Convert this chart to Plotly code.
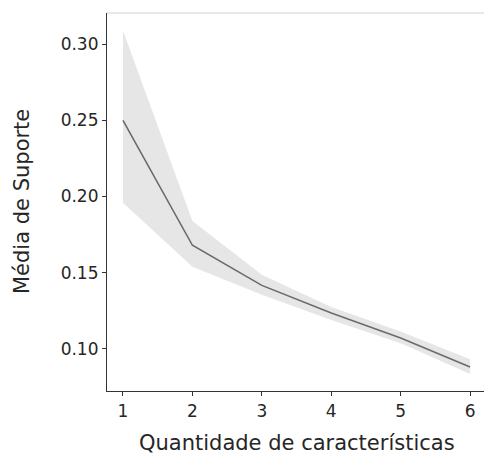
import plotly.graph_objects as go

features = [1, 2, 3, 4, 5, 6]
mean_support = [0.250, 0.168, 0.1417, 0.1235, 0.1072, 0.0882]
upper_ci = [0.309, 0.184, 0.1487, 0.1275, 0.1114, 0.0932]
lower_ci = [0.1959, 0.154, 0.1355, 0.1190, 0.1037, 0.0836]
y_ticks = [0.10, 0.15, 0.20, 0.25, 0.30]
x_ticks = [1, 2, 3, 4, 5, 6]

FONT = "DejaVu Sans"
PW = 377.0  # plot width in px
PH = 378.0  # plot height in px

fig = go.Figure()
fig.add_trace(go.Scatter(x=features, y=upper_ci, mode="lines",
                         line=dict(width=0), hoverinfo="skip", showlegend=False))
fig.add_trace(go.Scatter(x=features, y=lower_ci, mode="lines",
                         line=dict(width=0), fill="tonexty",
                         fillcolor="rgba(200,200,200,0.45)",
                         hoverinfo="skip", showlegend=False))
fig.add_trace(go.Scatter(x=features, y=mean_support, mode="lines",
                         line=dict(color="#6b6b6b", width=1.6), showlegend=False))

fig.update_layout(
    width=484, height=456,
    margin=dict(l=107, r=0, t=13, b=65),
    paper_bgcolor="white", plot_bgcolor="white",
    font=dict(family=FONT, size=17, color="#262626"),
    xaxis=dict(range=[0.77, 6.2], tickvals=x_ticks, ticks="outside", ticklen=4,
               tickwidth=1, tickcolor="#333", showline=True, linecolor="#333",
               linewidth=1.2, showgrid=False, zeroline=False,
               tickfont=dict(family=FONT, size=17, color="#262626")),
    yaxis=dict(range=[0.0724, 0.3204], tickvals=y_ticks, tickformat=".2f",
               ticks="outside", ticklen=4, tickwidth=1, tickcolor="#333",
               showline=True, linecolor="#333", linewidth=1.2, showgrid=False,
               zeroline=False, tickfont=dict(family=FONT, size=17, color="#262626")),
    shapes=[dict(type="line", xref="paper", yref="paper", x0=0, x1=1, y0=1, y1=1,
                 line=dict(color="#d0d0d0", width=1))],
    annotations=[
        dict(text="Quantidade de características", xref="paper", yref="paper",
             x=(297 - 107) / PW, y=-(443 - 391) / PH, xanchor="center", yanchor="middle",
             showarrow=False, font=dict(family=FONT, size=21, color="#262626")),
        dict(text="Média de Suporte", xref="paper", yref="paper",
             x=(22 - 107) / PW, y=0.5, xanchor="center", yanchor="middle", textangle=-90,
             showarrow=False, font=dict(family=FONT, size=21, color="#262626")),
    ],
)

fig.write_html("out.html")
